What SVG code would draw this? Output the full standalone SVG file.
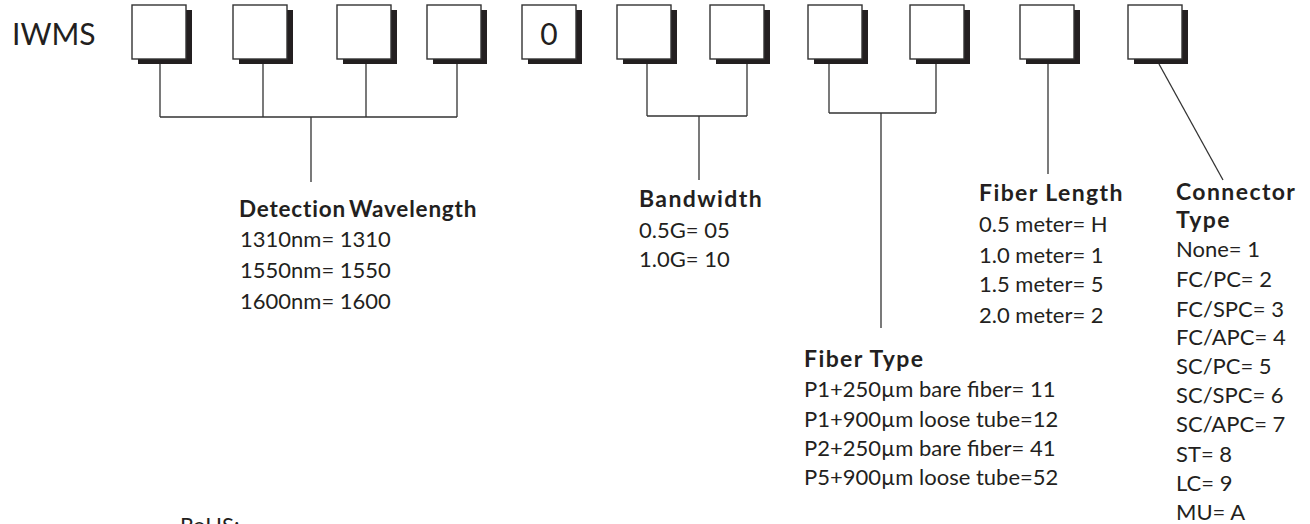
<svg xmlns="http://www.w3.org/2000/svg" width="1310" height="524" viewBox="0 0 1310 524">
<defs>
<style>
.bg{fill:#ffffff}
.box{fill:#ffffff;stroke:#333333;stroke-width:1.4}
.sh{fill:#231f20}
.ln{fill:none;stroke:#333333;stroke-width:1.3}
text{font-family:Lato,"Open Sans","Noto Sans",sans-serif;fill:#231f20}
.t{font-size:22px}
.h{font-size:23px;font-weight:bold;letter-spacing:1.4px}
.hd{font-size:22.5px;font-weight:bold;letter-spacing:0.8px;word-spacing:-3px}
.big{font-size:30px}
</style>
<g id="cell">
<rect class="sh" x="6" y="5" width="54" height="54"/>
<rect class="box" x="0" y="0" width="54" height="54"/>
</g>
</defs>
<rect class="bg" x="0" y="0" width="1310" height="524"/>
<g id="prefix"><text class="big" x="12" y="45">IWMS</text></g>
<g id="box1"><use href="#cell" x="132" y="5"/></g>
<g id="box2"><use href="#cell" x="233" y="5"/></g>
<g id="box3"><use href="#cell" x="337" y="5"/></g>
<g id="box4"><use href="#cell" x="427" y="5"/></g>
<g id="box5"><use href="#cell" x="522" y="5"/><text class="big" x="549" y="45" text-anchor="middle">0</text></g>
<g id="box6"><use href="#cell" x="617" y="5"/></g>
<g id="box7"><use href="#cell" x="710" y="5"/></g>
<g id="box8"><use href="#cell" x="808" y="5"/></g>
<g id="box9"><use href="#cell" x="910" y="5"/></g>
<g id="box10"><use href="#cell" x="1020" y="5"/></g>
<g id="box11"><use href="#cell" x="1128" y="5"/></g>
<g id="connectors">
<path class="ln" d="M160 64V117M263 64V117M366 64V117M457 64V117M160 117H457M311 117V182"/>
<path class="ln" d="M647 64V116M747 64V116M647 116H747M699 116V180"/>
<path class="ln" d="M829 64V113M936 64V113M829 113H936M881 113V328"/>
<path class="ln" d="M1048 64V174"/>
<path class="ln" d="M1159 64L1223 180"/>
</g>
<g id="detection">
<text class="hd" x="239" y="217">Detection Wavelength</text>
<text class="t" x="240" y="247">1310nm= 1310</text>
<text class="t" x="240" y="278">1550nm= 1550</text>
<text class="t" x="240" y="309">1600nm= 1600</text>
</g>
<g id="bandwidth">
<text class="h" x="639" y="207">Bandwidth</text>
<text class="t" x="639" y="238">0.5G= 05</text>
<text class="t" x="639" y="267">1.0G= 10</text>
</g>
<g id="fibertype">
<text class="h" x="804" y="367">Fiber Type</text>
<text class="t" x="804" y="397">P1+250µm bare fiber= 11</text>
<text class="t" x="804" y="427">P1+900µm loose tube=12</text>
<text class="t" x="804" y="456">P2+250µm bare fiber= 41</text>
<text class="t" x="804" y="485">P5+900µm loose tube=52</text>
</g>
<g id="fiberlength">
<text class="h" x="979" y="201">Fiber Length</text>
<text class="t" x="979" y="232">0.5 meter= H</text>
<text class="t" x="979" y="263">1.0 meter= 1</text>
<text class="t" x="979" y="292">1.5 meter= 5</text>
<text class="t" x="979" y="323">2.0 meter= 2</text>
</g>
<g id="connector">
<text class="h" x="1176" y="200">Connector</text>
<text class="h" x="1176" y="228">Type</text>
<text class="t" x="1176" y="257">None= 1</text>
<text class="t" x="1176" y="287">FC/PC= 2</text>
<text class="t" x="1176" y="317">FC/SPC= 3</text>
<text class="t" x="1176" y="345">FC/APC= 4</text>
<text class="t" x="1176" y="374">SC/PC= 5</text>
<text class="t" x="1176" y="403">SC/SPC= 6</text>
<text class="t" x="1176" y="432">SC/APC= 7</text>
<text class="t" x="1176" y="462">ST= 8</text>
<text class="t" x="1176" y="491">LC= 9</text>
<text class="t" x="1176" y="520">MU= A</text>
</g>
<g id="rohs"><text class="t" x="180" y="533">RoHS:</text></g>
</svg>
